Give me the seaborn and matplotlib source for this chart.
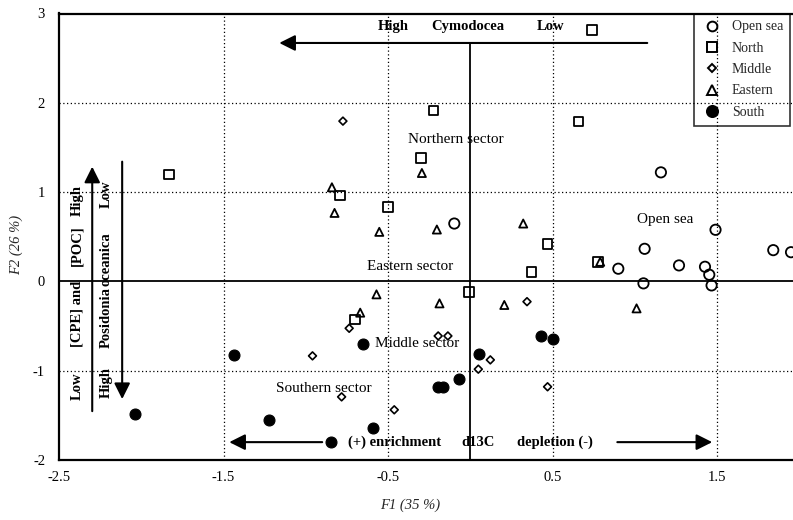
import matplotlib
matplotlib.use("Agg")
import matplotlib.pyplot as plt
import seaborn as sns
import pandas as pd
from matplotlib.lines import Line2D

# ---------------- data ----------------
groups = ["Open sea", "North", "Middle", "Eastern", "South"]

open_x = [1.159, 1.491, 1.060, 1.842, 1.950, 0.900, 1.269, 1.427, 1.453, 1.053, 1.467, -0.097]
open_y = [1.221, 0.578, 0.365, 0.350, 0.327, 0.142, 0.179, 0.164, 0.075, -0.022, -0.045, 0.648]

north_x = [0.742, -0.223, 0.657, -0.300, -1.832, -0.792, -0.500, 0.470, 0.373, 0.778, -0.006, -0.699]
north_y = [2.816, 1.914, 1.791, 1.382, 1.199, 0.961, 0.834, 0.421, 0.108, 0.220, -0.119, -0.425]

middle_x = [-0.774, -0.736, -0.959, -0.195, -0.136, 0.122, 0.049, -0.782, -0.462, 0.345, 0.470]
middle_y = [1.795, -0.525, -0.834, -0.611, -0.611, -0.879, -0.983, -1.293, -1.438, -0.227, -1.180]

eastern_x = [-0.841, -0.825, -0.553, -0.294, -0.203, 0.322, 0.790, 1.011, -0.570, -0.187, 0.207, -0.669]
eastern_y = [1.054, 0.767, 0.555, 1.214, 0.581, 0.648, 0.220, -0.302, -0.145, -0.246, -0.264, -0.350]

south_x = [-1.437, -2.035, -1.224, -0.845, -0.652, 0.053, -0.069, -0.199, -0.164, -0.594, 0.430, 0.500]
south_y = [-0.827, -1.483, -1.553, -1.802, -0.704, -0.808, -1.095, -1.177, -1.177, -1.646, -0.611, -0.640]

x_ticks = [-2.5, -1.5, -0.5, 0.5, 1.5]
x_tick_labels = ["-2.5", "-1.5", "-0.5", "0.5", "1.5"]
y_ticks = [-2, -1, 0, 1, 2, 3]
y_tick_labels = ["-2", "-1", "0", "1", "2", "3"]

sector_labels = ["Northern sector", "Eastern sector", "Middle sector", "Southern sector", "Open sea"]
sector_x = [-0.085, -0.368, -0.325, -0.888, 1.185]
sector_y = [1.587, 0.168, -0.696, -1.199, 0.693]

# ---------------- styling ----------------
sns.set_theme(style="white")
plt.rcParams["font.family"] = ["Liberation Serif", "DejaVu Serif"]
plt.rcParams["axes.unicode_minus"] = False

frames = []
for g, xs, ys in zip(groups, [open_x, north_x, middle_x, eastern_x, south_x],
                     [open_y, north_y, middle_y, eastern_y, south_y]):
    frames.append(pd.DataFrame({"F1": xs, "F2": ys, "group": g}))
df = pd.concat(frames, ignore_index=True)

marker_style = {
    "Open sea": dict(marker="o", s=55, facecolors="none", lw=1.3),
    "North": dict(marker="s", s=48, facecolors="none", lw=1.3),
    "Middle": dict(marker="D", s=16, facecolors="none", lw=1.2),
    "Eastern": dict(marker="^", s=34, facecolors="none", lw=1.3),
    "South": dict(marker="o", s=62, facecolors="black", lw=0.8),
}

fig = plt.figure(figsize=(7.93, 5.20), dpi=100)
ax = fig.add_axes([59 / 793, 60 / 520, 734 / 793, 446.5 / 520])
ax.set_facecolor("white")

for g in groups:
    st = marker_style[g]
    sns.scatterplot(data=df[df["group"] == g], x="F1", y="F2", ax=ax,
                    marker=st["marker"], s=st["s"], facecolors=st["facecolors"],
                    edgecolor="black", linewidth=st["lw"], zorder=4, legend=False)

ax.set_xlim(-2.5, 1.962)
ax.set_ylim(-2, 3)

# reference grid
for v in [-1.5, -0.5, 0.5, 1.5]:
    ax.axvline(v, color="black", lw=0.9, ls=(0, (1, 2)), zorder=1)
for h in [-1, 1, 2]:
    ax.axhline(h, color="black", lw=0.9, ls=(0, (1, 2)), zorder=1)
ax.axhline(0, color="black", lw=1.3, zorder=2)
ax.axvline(0, ymin=0, ymax=(2.67 + 2) / 5, color="black", lw=1.3, zorder=2)

for side in ["left", "bottom", "top"]:
    ax.spines[side].set_color("black")
    ax.spines[side].set_linewidth(1.6)
ax.spines["right"].set_visible(False)

ax.set_xticks(x_ticks)
ax.set_xticklabels(x_tick_labels)
ax.set_yticks(y_ticks)
ax.set_yticklabels(y_tick_labels)
ax.tick_params(axis="both", direction="in", length=3, width=1, colors="black",
               labelsize=10.5, labelcolor="black")
ax.tick_params(axis="x", pad=8)
ax.tick_params(axis="y", pad=10)
ax.set_xlabel("")
ax.set_ylabel("")

fig.text(410 / 793, 1 - 505 / 520, "F1 (35 %)", ha="center", va="center",
         fontsize=10.5, style="italic")
fig.text(16 / 793, 1 - 245 / 520, "F2 (26 %)", ha="center", va="center",
         fontsize=10.5, style="italic", rotation=90)

# arrows
arrow_kw = dict(arrowstyle="-|>", color="black", lw=1.5, mutation_scale=24,
                shrinkA=0, shrinkB=0)
ax.annotate("", xy=(-1.161, 2.67), xytext=(1.076, 2.67), arrowprops=arrow_kw, zorder=5)
ax.annotate("", xy=(-1.465, -1.80), xytext=(-0.90, -1.80), arrowprops=arrow_kw, zorder=5)
ax.annotate("", xy=(1.471, -1.80), xytext=(0.894, -1.80), arrowprops=arrow_kw, zorder=5)
ax.annotate("", xy=(-2.298, 1.285), xytext=(-2.298, -1.453), arrowprops=arrow_kw, zorder=5)
ax.annotate("", xy=(-2.116, -1.318), xytext=(-2.116, 1.341), arrowprops=arrow_kw, zorder=5)

bold = dict(fontsize=10.5, fontweight="bold", ha="center", va="center", color="black")
for txt, xx in zip(["High", "Cymodocea", "Low"], [-0.471, -0.015, 0.486]):
    ax.text(xx, 2.85, txt, **bold)
for txt, xx in zip(["(+) enrichment", "d13C", "depletion (-)"], [-0.462, 0.046, 0.517]):
    ax.text(xx, -1.80, txt, **bold)
for txt, yy in zip(["High", "[POC]", "[CPE] and", "Low"], [0.905, 0.397, -0.363, -1.179]):
    ax.text(-2.392, yy, txt, rotation=90, **bold)
for txt, yy in zip(["Low", "oceanica", "Posidonia", "High"], [0.972, 0.246, -0.408, -1.134]):
    ax.text(-2.212, yy, txt, rotation=90, **bold)

for txt, xx, yy in zip(sector_labels, sector_x, sector_y):
    ax.text(xx, yy, txt, fontsize=11, ha="center", va="center", color="black", zorder=3)

# legend
handles = []
for g in groups:
    st = marker_style[g]
    ms = {"Open sea": 7, "North": 7, "Middle": 4.5, "Eastern": 6.5, "South": 8}[g]
    handles.append(Line2D([], [], ls="none", marker=st["marker"], markersize=ms,
                          markerfacecolor=("black" if g == "South" else "none"),
                          markeredgecolor="black", markeredgewidth=1.4, label=g))
leg = ax.legend(handles=handles, loc="upper right", bbox_to_anchor=(0.996, 1.0),
                borderaxespad=0.0, fontsize=10, labelspacing=0.6, handletextpad=0.6,
                handlelength=1.6, borderpad=0.5, fancybox=False, frameon=True)
leg.get_frame().set_facecolor("none")
leg.get_frame().set_edgecolor("black")
leg.get_frame().set_linewidth(1.2)

fig.savefig("out.png", dpi=100, facecolor="white")
